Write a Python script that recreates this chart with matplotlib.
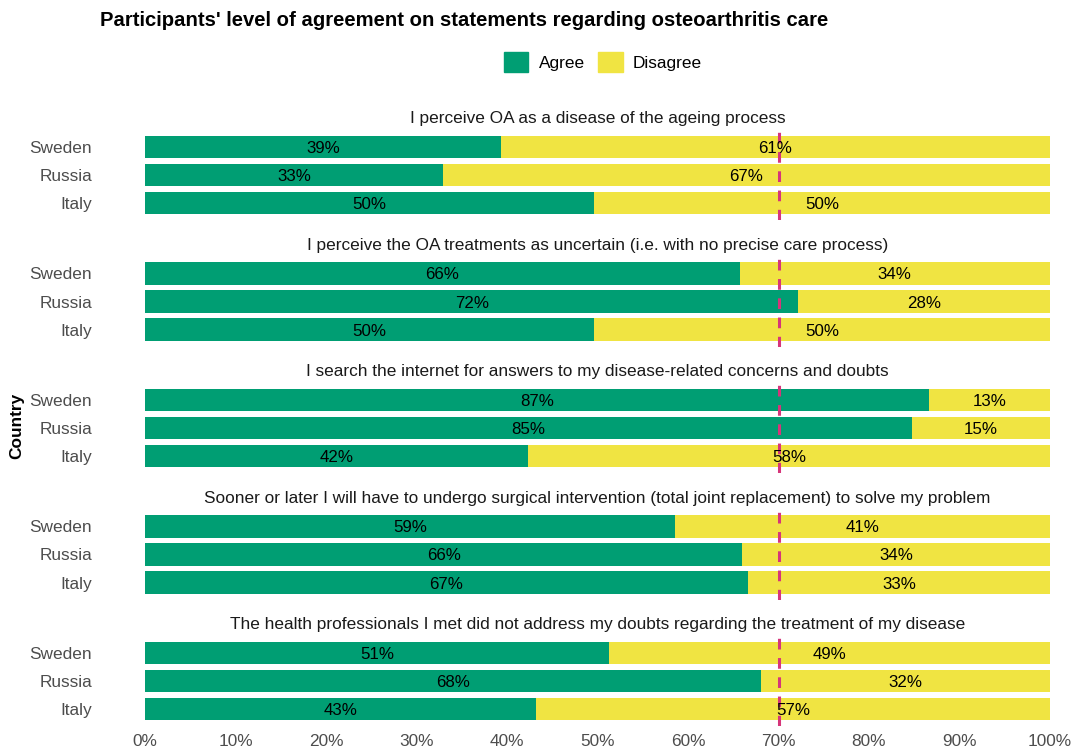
import matplotlib
matplotlib.use("Agg")
import matplotlib.pyplot as plt
from matplotlib.patches import Patch
from matplotlib.ticker import FuncFormatter

plt.rcParams['font.family'] = ['Liberation Sans', 'DejaVu Sans']

statements = [
    "I perceive OA as a disease of the ageing process",
    "I perceive the OA treatments as uncertain (i.e. with no precise care process)",
    "I search the internet for answers to my disease-related concerns and doubts",
    "Sooner or later I will have to undergo surgical intervention (total joint replacement) to solve my problem",
    "The health professionals I met did not address my doubts regarding the treatment of my disease",
]
countries = ["Sweden", "Russia", "Italy"]

# share agreeing (%) per statement, in country order
agree = [
    [39.3, 32.9, 49.6],
    [65.7, 72.2, 49.6],
    [86.6, 84.7, 42.3],
    [58.6, 66.0, 66.6],
    [51.3, 68.1, 43.2],
]
threshold = 70

green = "#009E73"
yellow = "#F0E442"
pink = "#D6357A"

W, H = 1072, 748
fig = plt.figure(figsize=(W / 100, H / 100), dpi=100)

left, right = 145, 1050
for k, (stmt, vals) in enumerate(zip(statements, agree)):
    top = 130 + 126.5 * k
    bottom = top + 90
    ax = fig.add_axes([left / W, 1 - bottom / H, (right - left) / W, 90 / H])
    ypos = list(range(len(countries)))
    dis = [100 - v for v in vals]
    ax.barh(ypos, vals, height=0.8, color=green, zorder=2)
    ax.barh(ypos, dis, left=vals, height=0.8, color=yellow, zorder=2)
    for y, a, d in zip(ypos, vals, dis):
        ax.text(a / 2, y, f"{round(a)}%", ha="center", va="center_baseline", fontsize=12.2, color="black", zorder=4)
        ax.text(a + d / 2, y, f"{round(d)}%", ha="center", va="center_baseline", fontsize=12.2, color="black", zorder=4)
    ax.axvline(threshold, color=pink, lw=2.2, linestyle=(0, (3.5, 2.8)), zorder=3)
    ax.set_xlim(0, 100)
    ax.set_ylim(2.6, -0.6)
    ax.set_yticks(ypos)
    ax.set_yticklabels(countries)
    ax.tick_params(axis="y", length=0, pad=38, labelsize=12.4, labelcolor="#4D4D4D")
    ax.set_title(stmt, fontsize=12.4, pad=5, color="#1A1A1A")
    for s in ax.spines.values():
        s.set_visible(False)
    if k < len(statements) - 1:
        ax.set_xticks([])
    else:
        ax.set_xticks(range(0, 101, 10))
        ax.xaxis.set_major_formatter(FuncFormatter(lambda v, p: f"{int(v)}%"))
        ax.tick_params(axis="x", length=0, pad=6, labelsize=12.4, labelcolor="#4D4D4D")

fig.text(100 / W, 1 - 21 / H, "Participants' level of agreement on statements regarding osteoarthritis care",
         fontsize=14.6, fontweight="bold", va="center", ha="left")
fig.text(17 / W, 1 - 426 / H, "Country", rotation=90, fontsize=12.4, fontweight="bold", va="center", ha="center")

handles = [Patch(color=green, label="Agree"), Patch(color=yellow, label="Disagree")]
fig.legend(handles=handles, loc="center", bbox_to_anchor=(603 / W, 1 - 62 / H), ncol=2, frameon=False,
           fontsize=12.4, handlelength=1.4, handleheight=1.4, columnspacing=0.8, handletextpad=0.6)

fig.savefig("out.png", dpi=100, facecolor="white")
